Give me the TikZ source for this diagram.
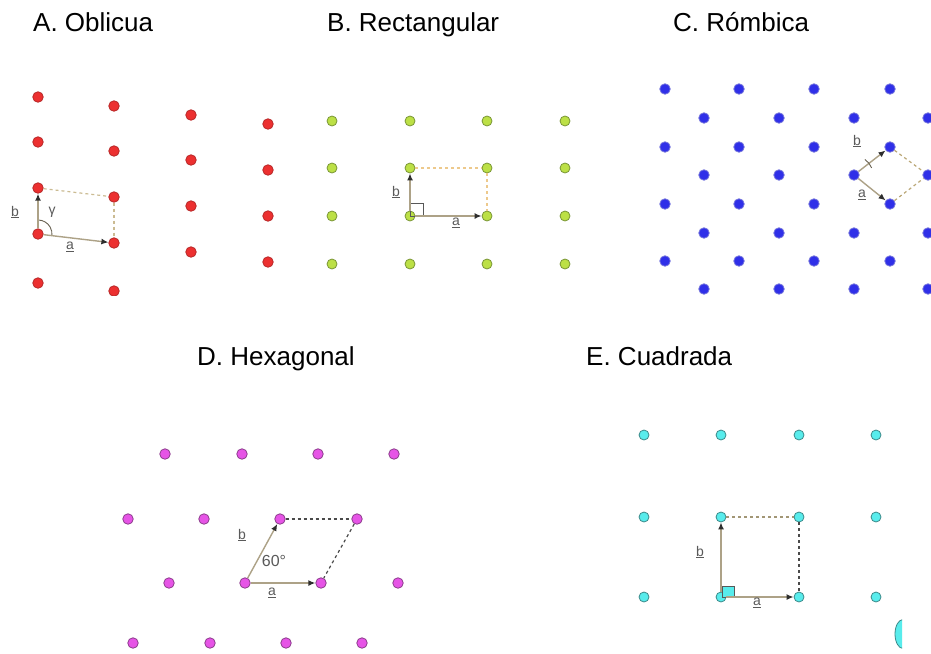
\documentclass[tikz,border=0pt]{standalone}
\usepackage{fontspec}
\setmainfont{Liberation Sans}
\usetikzlibrary{arrows.meta,shapes.geometric}
\definecolor{redF}{HTML}{EC3030}
\definecolor{redD}{HTML}{B82828}
\definecolor{grnF}{HTML}{BCE046}
\definecolor{grnD}{HTML}{7A9636}
\definecolor{bluF}{HTML}{2F2FE8}
\definecolor{bluD}{HTML}{7272DC}
\definecolor{magF}{HTML}{E654E6}
\definecolor{magD}{HTML}{8C3C8C}
\definecolor{cyaF}{HTML}{58ECEC}
\definecolor{cyaD}{HTML}{3C8A8A}
\definecolor{vecC}{HTML}{ADA287}
\definecolor{tipC}{HTML}{2E2E2E}
\definecolor{labC}{HTML}{5A5A5A}
\definecolor{dashA}{HTML}{CBBB92}
\definecolor{dashB}{HTML}{EDC98C}
\definecolor{dashC}{HTML}{BBA878}
\definecolor{dashD}{HTML}{4A4A4A}
\begin{document}
\begin{tikzpicture}[x=1pt,y=-1pt,
  dot/.style={circle,inner sep=0pt,minimum size=10.5pt,line width=0.8pt},
  reddot/.style={dot,fill=redF,draw=redD},
  grndot/.style={dot,fill=grnF,draw=grnD,minimum size=10pt},
  bludot/.style={dot,fill=bluF,draw=bluD},
  magdot/.style={dot,fill=magF,draw=magD},
  cyadot/.style={dot,fill=cyaF,draw=cyaD,minimum size=10pt},
  vec/.style={draw=vecC,line width=1.4pt,-{Latex[length=7pt,width=6pt,color=tipC]}},
  cell/.style={line width=1.2pt,dash pattern=on 3pt off 3pt},
  lab/.style={font=\fontsize{14}{14}\selectfont,text=labC,inner sep=0pt},
  title/.style={font=\fontsize{26}{26}\selectfont,anchor=base west,inner sep=0pt},
  ra/.style={draw=tipC!80,line width=0.9pt}
]
\useasboundingbox (0,0) rectangle (931,653);
\fill[white] (0,0) rectangle (931,653);

% titles
\node[title] (tA) at (33,31) {A. Oblicua};
\node[title] (tB) at (327,31) {B. Rectangular};
\node[title] (tC) at (673,31) {C. Rómbica};
\node[title] (tD) at (197,365) {D. Hexagonal};
\node[title] (tE) at (586,365) {E. Cuadrada};

% ---------- A: oblique ----------
\begin{scope}
\clip (0,60) rectangle (300,295);
\foreach \n/\x/\y in {A11/38/97,A12/38/142,A13/38/188,A14/38/234,A15/38/283,
  A21/114/106,A22/114/151,A23/114/197,A24/114/243,A25/114/291,
  A31/191/115,A32/191/160,A33/191/206,A34/191/252,
  A41/268/124,A42/268/170,A43/268/216,A44/268/262}
  \node[reddot] (\n) at (\x,\y) {};
\end{scope}
\draw[cell,draw=dashA] (A13) -- (A23);
\draw[cell,draw=dashA] (A23) -- (A24);
\draw[draw=vecC!60!black,line width=0.9pt] (A14.center) ++(-90:14) arc[start angle=-90,end angle=7,radius=14];
\draw[vec] (A14) -- (A24);
\draw[vec] (A14) -- (A13);
\node[lab] (Ab) at (15,212) {\underline{b}};
\node[lab] (Aa) at (70,247) {\underline{a}};
\node[lab] (Ag) at (52,212) {γ};

% ---------- B: rectangular ----------
\foreach \c/\x in {1/332,2/410,3/487,4/565}
  \foreach \r/\y in {1/121,2/168,3/216,4/264}
    \node[grndot] (B\c\r) at (\x,\y) {};
\draw[cell,draw=dashB] (B22) -- (B32);
\draw[cell,draw=dashB] (B32) -- (B33);
\draw[ra] (B23.center) rectangle ++(13,-13);
\draw[vec] (B23) -- (B33);
\draw[vec] (B23) -- (B22);
\node[lab] (Bb) at (396,192) {\underline{b}};
\node[lab] (Ba) at (456,223) {\underline{a}};

% ---------- C: rhombic ----------
\begin{scope}
\clip (640,60) rectangle (931,295);
\foreach \r/\y in {1/89,3/147,5/204,7/261}
  \foreach \c/\x in {1/665,2/739,3/814,4/890}
    \node[bludot] (C\r\c) at (\x,\y) {};
\foreach \r/\y in {2/118,4/175,6/233,8/289}
  \foreach \c/\x in {1/704,2/779,3/854,4/928}
    \node[bludot] (C\r\c) at (\x,\y) {};
\end{scope}
\draw[cell,draw=dashC] (C34) -- (C44);
\draw[cell,draw=dashC] (C54) -- (C44);
\draw[vec] (C43) -- (C34);
\draw[vec] (C43) -- (C54);
\draw[draw=vecC!60!black,line width=0.9pt] (C43.center) ++(-55:19) arc[start angle=-55,end angle=-22,radius=19];
\node[lab] (Cb) at (857,141) {\underline{b}};
\node[lab] (Ca) at (862,195) {\underline{a}};

% ---------- D: hexagonal ----------
\foreach \n/\x/\y in {D11/165/454,D12/242/454,D13/318/454,D14/394/454,
  D21/128/519,D22/204/519,D23/280/519,D24/357/519,
  D31/169/583,D32/245/583,D33/321/583,D34/398/583,
  D41/133/643,D42/210/643,D43/286/643,D44/362/643}
  \node[magdot] (\n) at (\x,\y) {};
\draw[cell,draw=dashD] (D23) -- (D24);
\draw[cell,draw=dashD] (D24) -- (D33);
\draw[vec] (D32) -- (D33);
\draw[vec] (D32) -- (D23);
\node[lab] (Db) at (242,535) {\underline{b}};
\node[lab,font=\fontsize{16}{16}\selectfont] (D60) at (274,561) {60°};
\node[lab] (Da) at (272,593) {\underline{a}};

% ---------- E: square ----------
\foreach \c/\x in {1/644,2/721,3/799,4/876}
  \foreach \r/\y in {1/435,2/517,3/597}
    \node[cyadot] (E\r\c) at (\x,\y) {};
\draw[cell,draw=dashA!80!black] (E22) -- (E23);
\draw[cell,draw=dashD] (E23) -- (E33);
\draw[ra,fill=cyaF] (E32.center) ++(1,0) rectangle ++(12,-11);
\draw[vec] (E32) -- (E33);
\draw[vec] (E32) -- (E22);
\node[lab] (Eb) at (700,552) {\underline{b}};
\node[lab] (Ea) at (757,603) {\underline{a}};
\begin{scope}
\clip (880,610) rectangle (902,660);
\node[ellipse,inner sep=0pt,minimum width=16pt,minimum height=29pt,fill=cyaF,draw=cyaD,line width=0.8pt] (Ebig) at (903,634) {};
\end{scope}
\end{tikzpicture}
\end{document}
